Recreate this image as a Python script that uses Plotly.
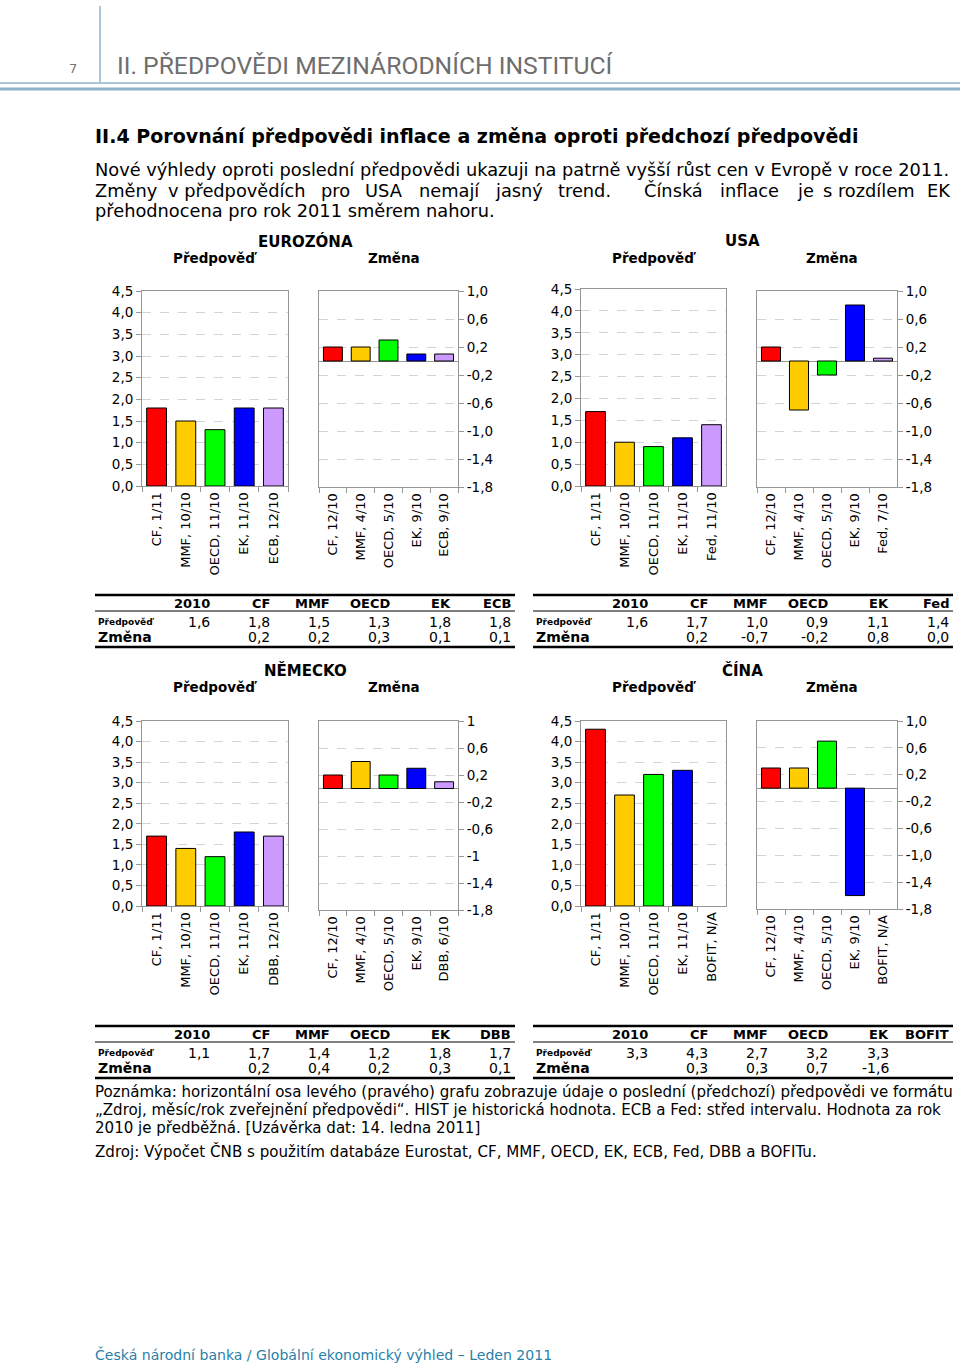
import plotly.graph_objects as go

W, H = 960, 1367

# ---------------- data ----------------
bar_colors = ["#FF0000", "#FFCC00", "#00FF00", "#0000FF", "#CC99FF"]

ez_pred_cats = ["CF, 1/11", "MMF, 10/10", "OECD, 11/10", "EK, 11/10", "ECB, 12/10"]
ez_chg_cats = ["CF, 12/10", "MMF, 4/10", "OECD, 5/10", "EK, 9/10", "ECB, 9/10"]
ez_pred = [1.8, 1.5, 1.3, 1.8, 1.8]
ez_chg = [0.2, 0.2, 0.3, 0.1, 0.1]
ez_2010 = 1.6
ez_table_head = ["2010", "CF", "MMF", "OECD", "EK", "ECB"]

us_pred_cats = ["CF, 1/11", "MMF, 10/10", "OECD, 11/10", "EK, 11/10", "Fed, 11/10"]
us_chg_cats = ["CF, 12/10", "MMF, 4/10", "OECD, 5/10", "EK, 9/10", "Fed, 7/10"]
us_pred = [1.7, 1.0, 0.9, 1.1, 1.4]
us_chg = [0.2, -0.7, -0.2, 0.8, 0.04]
us_2010 = 1.6
us_table_head = ["2010", "CF", "MMF", "OECD", "EK", "Fed"]

de_pred_cats = ["CF, 1/11", "MMF, 10/10", "OECD, 11/10", "EK, 11/10", "DBB, 12/10"]
de_chg_cats = ["CF, 12/10", "MMF, 4/10", "OECD, 5/10", "EK, 9/10", "DBB, 6/10"]
de_pred = [1.7, 1.4, 1.2, 1.8, 1.7]
de_chg = [0.2, 0.4, 0.2, 0.3, 0.1]
de_2010 = 1.1
de_table_head = ["2010", "CF", "MMF", "OECD", "EK", "DBB"]

cn_pred_cats = ["CF, 1/11", "MMF, 10/10", "OECD, 11/10", "EK, 11/10", "BOFIT, N/A"]
cn_chg_cats = ["CF, 12/10", "MMF, 4/10", "OECD, 5/10", "EK, 9/10", "BOFIT, N/A"]
cn_pred = [4.3, 2.7, 3.2, 3.3, None]
cn_chg = [0.3, 0.3, 0.7, -1.6, None]
cn_2010 = 3.3
cn_table_head = ["2010", "CF", "MMF", "OECD", "EK", "BOFIT"]

pred_ticks = [0, 0.5, 1.0, 1.5, 2.0, 2.5, 3.0, 3.5, 4.0, 4.5]
pred_ticktext = ["0,0", "0,5", "1,0", "1,5", "2,0", "2,5", "3,0", "3,5", "4,0", "4,5"]
chg_ticks = [-1.8, -1.4, -1.0, -0.6, -0.2, 0.2, 0.6, 1.0]
chg_ticktext = ["-1,8", "-1,4", "-1,0", "-0,6", "-0,2", "0,2", "0,6", "1,0"]
chg_ticktext_de = ["-1,8", "-1,4", "-1", "-0,6", "-0,2", "0,2", "0,6", "1"]

# ---------------- layout helpers ----------------
FONT = "DejaVu Sans"
Y_OFF, Y_SPAN = 8.0, 1351.0   # vertical mapping of the rendered page


def fx(px):
    return px / W


def fy(py):
    return 1 - (py - Y_OFF) / Y_SPAN


def fmt(v):
    return ("%.1f" % v).replace(".", ",")


fig = go.Figure()
annotations = []
shapes = []


def txt(x, y, s, size=13, bold=False, color="#000000", xanchor="left", family=FONT):
    if bold:
        s = "<b>" + s + "</b>"
    annotations.append(dict(
        x=fx(x), y=fy(y), xref="paper", yref="paper", text=s, showarrow=False,
        xanchor=xanchor, yanchor="middle", borderpad=0,
        font=dict(family=family, size=size, color=color)))


def hline(x0, x1, y, color, width):
    shapes.append(dict(type="line", xref="paper", yref="paper",
                       x0=fx(x0), x1=fx(x1), y0=fy(y), y1=fy(y),
                       line=dict(color=color, width=width)))


def vline(x, y0, y1, color, width):
    shapes.append(dict(type="line", xref="paper", yref="paper",
                       x0=fx(x), x1=fx(x), y0=fy(y0), y1=fy(y1),
                       line=dict(color=color, width=width)))


axis_count = [0]
layout_axes = {}


def add_chart(cats, vals, box, yr, tickvals, ticktext, side):
    axis_count[0] += 1
    n = axis_count[0]
    xa = "x" if n == 1 else "x%d" % n
    ya = "y" if n == 1 else "y%d" % n
    x0, x1, y0, y1 = box
    fig.add_trace(go.Bar(
        x=cats, y=vals, xaxis=xa, yaxis=ya, width=0.68,
        marker=dict(color=bar_colors, line=dict(color="#000000", width=1)),
        showlegend=False, hoverinfo="x+y"))
    xkey = "xaxis" if n == 1 else "xaxis%d" % n
    ykey = "yaxis" if n == 1 else "yaxis%d" % n
    layout_axes[xkey] = dict(
        domain=[fx(x0), fx(x1)], anchor=ya, type="category",
        range=[-0.5, 4.5], tickangle=-90, tickson="boundaries",
        ticks="outside", ticklen=5, tickcolor="#969696",
        showline=True, mirror=True, linecolor="#969696", linewidth=1,
        showgrid=False, fixedrange=True,
        tickfont=dict(family=FONT, size=13, color="#000000"))
    layout_axes[ykey] = dict(
        domain=[fy(y1), fy(y0)], anchor=xa, range=yr, side=side,
        tickvals=tickvals, ticktext=ticktext,
        ticks="outside", ticklen=5, tickcolor="#969696",
        showline=True, mirror=True, linecolor="#969696", linewidth=1,
        showgrid=True, gridcolor="#d4d4d4", griddash="dash", gridwidth=1,
        zeroline=(side == "right"), zerolinecolor="#969696", zerolinewidth=1,
        fixedrange=True,
        tickfont=dict(family=FONT, size=13.5, color="#000000"))


panels = [
    ("EUROZÓNA", 305, 241, ez_pred_cats, ez_chg_cats, ez_pred, ez_chg, ez_2010, ez_table_head,
     (142, 288, 291, 486), (319, 458, 291, 487), chg_ticktext, 0, 0),
    ("USA", 742, 241, us_pred_cats, us_chg_cats, us_pred, us_chg, us_2010, us_table_head,
     (581, 726, 289, 486), (757, 897, 291, 487), chg_ticktext, 438, 0),
    ("NĚMECKO", 305, 670, de_pred_cats, de_chg_cats, de_pred, de_chg, de_2010, de_table_head,
     (142, 288, 721, 906), (319, 458, 721, 910), chg_ticktext_de, 0, 431),
    ("ČÍNA", 742, 670, cn_pred_cats, cn_chg_cats, cn_pred, cn_chg, cn_2010, cn_table_head,
     (581, 726, 721, 906), (757, 897, 721, 909), chg_ticktext, 438, 431),
]

col_right = [211, 271, 331, 391, 452, 512]

for (title, tx, ty, pcats, ccats, pvals, cvals, v2010, head, pbox, cbox, ctt, dx, dy) in panels:
    add_chart(pcats, pvals, pbox, [0, 4.5], pred_ticks, pred_ticktext, "left")
    add_chart(ccats, cvals, cbox, [-1.8, 1.0], chg_ticks, ctt, "right")
    txt(tx, ty, title, size=15, bold=True, xanchor="center")
    txt((pbox[0] + pbox[1]) / 2, ty + 17, "Předpověď", size=13.5, bold=True, xanchor="center")
    txt((cbox[0] + cbox[1]) / 2 + 5, ty + 17, "Změna", size=13.5, bold=True, xanchor="center")
    # table
    tl, tr = 95 + dx, 515 + dx
    hline(tl, tr, 595 + dy, "#000000", 2.5)
    hline(tl, tr, 611 + dy, "#000000", 1)
    hline(tl, tr, 647 + dy, "#000000", 2.5)
    for i, h in enumerate(head):
        txt(col_right[i] + dx, 603 + dy, h, size=13, bold=True, xanchor="right")
    txt(97 + dx, 622 + dy, "Předpověď", size=9, bold=True)
    txt(97 + dx, 637 + dy, "Změna", size=14, bold=True)
    row_pred = [v2010] + pvals
    for i, v in enumerate(row_pred):
        if v is not None:
            txt(col_right[i] + dx, 622 + dy, fmt(v), size=14, xanchor="right")
    for i, v in enumerate(cvals):
        if v is not None:
            txt(col_right[i + 1] + dx, 637 + dy, fmt(v), size=14, xanchor="right")

# ---------------- page header ----------------
vline(100, 6, 82, "#8fb3c8", 1.5)
hline(0, 960, 83, "#8fb3c8", 1.5)
hline(0, 960, 89, "#8fb3c8", 3)
txt(73, 68, "7", size=13, color="#777777", xanchor="center")
txt(116, 66, "II. PŘEDPOVĚDI MEZINÁRODNÍCH INSTITUCÍ", size=24.7, color="#6e6e6e",
    family="Liberation Sans Narrow, Roboto, Liberation Sans")

txt(94, 136, "II.4 Porovnání předpovědi inflace a změna oproti předchozí předpovědi",
    size=19.05, bold=True)
txt(94, 170, "Nové výhledy oproti poslední předpovědi ukazuji na patrně vyšší růst cen v Evropě v roce 2011.",
    size=17.8)
# justified second line: words placed across the line
line2_words = ["Změny", "v předpovědích", "pro", "USA", "nemají", "jasný", "trend.",
               "Čínská", "inflace", "je", "s rozdílem", "EK"]
line2_pos = [95, 237, 335, 384, 449, 519, 584, 673, 749, 805, 868, 952]
for i, (w_, p_) in enumerate(zip(line2_words, line2_pos)):
    anchor = "left" if i == 0 else ("right" if i == len(line2_words) - 1 else "center")
    txt(p_ - (1 if i == 0 else 0), 190, w_, size=17.8, xanchor=anchor)
txt(94, 211, "přehodnocena pro rok 2011 směrem nahoru.", size=17.8)

txt(94, 1092, "Poznámka: horizontální osa levého (pravého) grafu zobrazuje údaje o poslední (předchozí) předpovědi ve formátu",
    size=15.05)
txt(94, 1110, "„Zdroj, měsíc/rok zveřejnění předpovědi“. HIST je historická hodnota. ECB a Fed: střed intervalu. Hodnota za rok",
    size=15.05)
txt(94, 1128, "2010 je předběžná. [Uzávěrka dat: 14. ledna 2011]", size=15.05)
txt(94, 1151, "Zdroj: Výpočet ČNB s použitím databáze Eurostat, CF, MMF, OECD, EK, ECB, Fed, DBB a BOFITu.",
    size=15.1)

txt(94, 1354, "Česká národní banka / Globální ekonomický výhled – Leden 2011", size=14.05,
    color="#2a7fa8")

fig.update_layout(
    width=W, height=H, autosize=False,
    margin=dict(l=0, r=0, t=0, b=0, pad=0),
    paper_bgcolor="#ffffff", plot_bgcolor="#ffffff",
    separators=", ",
    annotations=annotations, shapes=shapes,
    showlegend=False,
    **layout_axes)

# remove the default page margin synchronously (outside the render promise)
margin_fix = "}); document.body.style.margin='0'; document.body.style.overflow='hidden'; (function(){"

fig.write_html("out.html", post_script=margin_fix, config={"displayModeBar": False})
